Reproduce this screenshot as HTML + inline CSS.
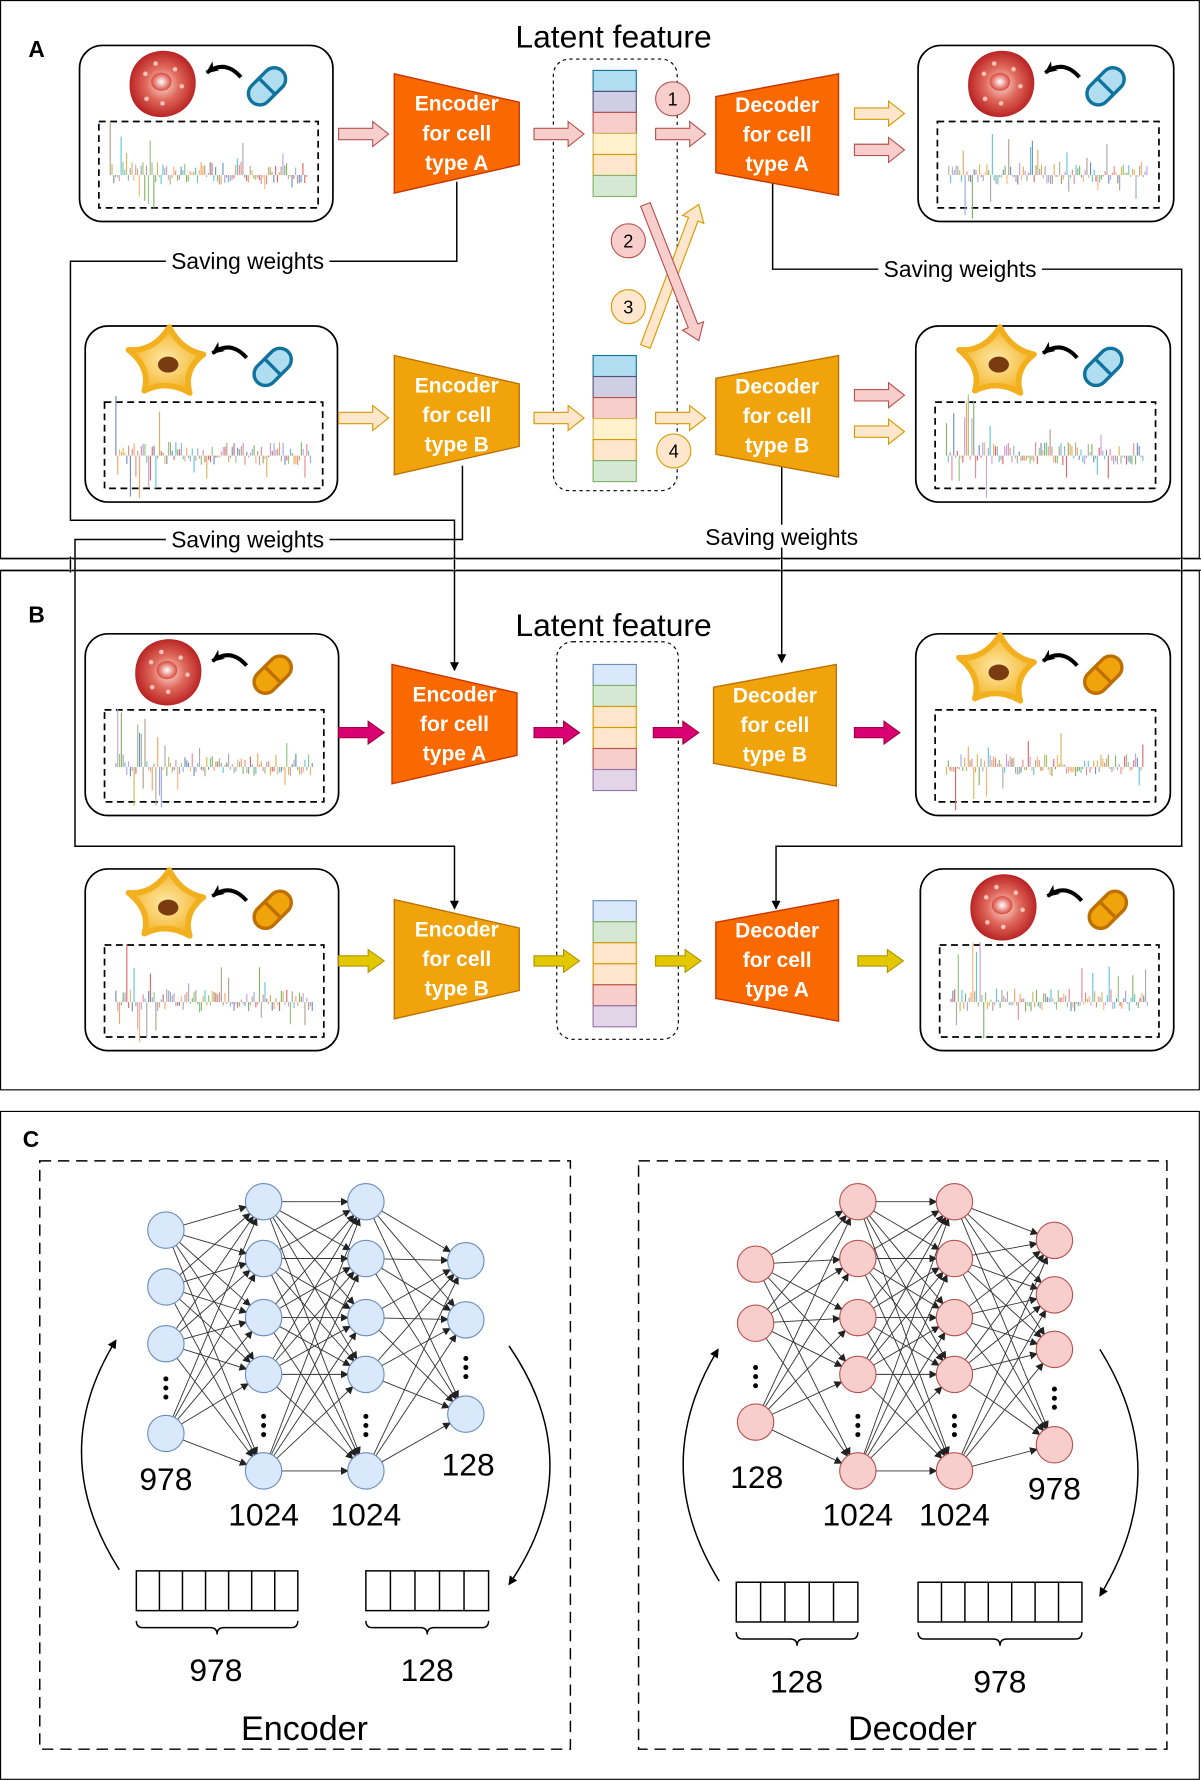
<!DOCTYPE html>
<html><head><meta charset="utf-8"><style>
html,body{margin:0;padding:0;background:#fff}
svg{display:block}
text{font-family:"Liberation Sans",Arial,sans-serif}
</style></head><body>
<svg id="s" xmlns="http://www.w3.org/2000/svg" width="1201" height="1781" viewBox="0 0 1057 1568" preserveAspectRatio="none"></svg>
<script>
var o='';
var seed=7;function rnd(){seed=(seed*16807)%2147483647;return (seed-1)/2147483646;}
function add(s){o+=s;}
add('<defs><radialGradient id="rc" cx="50%" cy="50%" r="55%"><stop offset="0" stop-color="#fbe3df"/><stop offset="0.45" stop-color="#e06a5c"/><stop offset="1" stop-color="#b3171a"/></radialGradient>'+
'<radialGradient id="nu" cx="50%" cy="50%" r="50%"><stop offset="0" stop-color="#fff"/><stop offset="1" stop-color="#d9473a"/></radialGradient>'+
'<radialGradient id="yc" cx="50%" cy="50%" r="55%"><stop offset="0" stop-color="#ffe9a8"/><stop offset="1" stop-color="#f2b01e"/></radialGradient>'+
'<marker id="ah" markerWidth="8" markerHeight="8" refX="7" refY="4" orient="auto" markerUnits="userSpaceOnUse"><path d="M0,0 L8,4 L0,8 z" fill="#000"/></marker>'+
'<marker id="ah2" markerWidth="12" markerHeight="12" refX="10" refY="6" orient="auto" markerUnits="userSpaceOnUse"><path d="M0,1 L11,6 L0,11 L3,6 z" fill="#000"/></marker>'+
'<marker id="as" markerWidth="7" markerHeight="7" refX="6" refY="3.5" orient="auto" markerUnits="userSpaceOnUse"><path d="M0,0 L7,3.5 L0,7 z" fill="#222"/></marker>'+
'</defs>');
add('<rect x="0.5" y="0.5" width="1055" height="491" fill="none" stroke="#000"/>');
add('<rect x="0.5" y="502.5" width="1055" height="457" fill="none" stroke="#000"/>');
add('<rect x="0.5" y="978.5" width="1055" height="588" fill="none" stroke="#000"/>');
add('<text x="25" y="50" font-size="20" font-weight="bold">A</text>');
add('<text x="25" y="548" font-size="20" font-weight="bold">B</text>');
add('<text x="20" y="1010" font-size="20" font-weight="bold">C</text>');
add('<text x="540" y="42" font-size="28" text-anchor="middle">Latent feature</text>');
add('<text x="540" y="560" font-size="28" text-anchor="middle">Latent feature</text>');

function redCell(cx,cy){var s='<path d="M'+(cx-28)+','+(cy+2)+' C'+(cx-28)+','+(cy-22)+' '+(cx-8)+','+(cy-30)+' '+(cx+6)+','+(cy-28)+' C'+(cx+24)+','+(cy-26)+' '+(cx+32)+','+(cy-10)+' '+(cx+30)+','+(cy+4)+' C'+(cx+28)+','+(cy+22)+' '+(cx+12)+','+(cy+31)+' '+(cx-2)+','+(cy+30)+' C'+(cx-18)+','+(cy+29)+' '+(cx-28)+','+(cy+18)+' '+(cx-28)+','+(cy+2)+'z" fill="url(#rc)"/>';
 s+='<ellipse cx="'+cx+'" cy="'+(cy-1)+'" rx="9" ry="8" fill="url(#nu)"/>';
 [[-14,-8],[12,-12],[18,3],[-13,14],[1,18],[-5,-17]].forEach(function(p){s+='<circle cx="'+(cx+p[0])+'" cy="'+(cy+p[1])+'" r="2" fill="#f6c4bc" stroke="#e48a7e" stroke-width="0.5"/>';});return s;}
function starCell(cx,cy){
 var tips=[[-34,-12],[2,-32],[32,-8],[20,26],[-20,24]],inn=[[-12,-10],[12,-12],[14,6],[0,14],[-14,4]];
 var d='M'+(cx+tips[0][0])+','+(cy+tips[0][1]);
 for(var i=0;i<5;i++){var t=tips[(i+1)%5],m=inn[i];d+=' Q'+(cx+m[0])+','+(cy+m[1])+' '+(cx+t[0])+','+(cy+t[1]);}
 return '<path d="'+d+'z" fill="url(#yc)" stroke="#f2b01e" stroke-width="5" stroke-linejoin="round"/><ellipse cx="'+(cx+1)+'" cy="'+(cy+1)+'" rx="9" ry="7" fill="#7a3b10"/>';}
function pill(cx,cy,blue){var f=blue?'#b1ddf0':'#f0a30a',st=blue?'#10739e':'#bd7000';
 return '<g transform="translate('+cx+','+cy+') rotate(-45)"><rect x="-19" y="-10" width="38" height="20" rx="10" fill="'+f+'" stroke="'+st+'" stroke-width="3"/><line x1="0" y1="-10" x2="0" y2="10" stroke="'+st+'" stroke-width="3"/></g>';}
function spectrum(x,y,w,h){var s='',base=y+h*0.62;var pal=['#82b366','#f4a460','#e88a94','#9fa8da','#c9a0dc','#5fc6d8','#b0a090','#aaa','#d6b656','#6c8ebf','#e06666','#93c47d','#ffb570'];
 for(var xx=x+10;xx<x+w-10;xx+=1.6){var r=rnd();var up=r<0.55;var hh=2+rnd()*10;if(rnd()<0.08)hh=12+rnd()*20;if(xx<x+50&&rnd()<0.3)hh=25+rnd()*30;if(!up)hh=hh*0.7;var c=pal[Math.floor(rnd()*pal.length)];
  s+='<line x1="'+xx.toFixed(1)+'" y1="'+base+'" x2="'+xx.toFixed(1)+'" y2="'+(up?base-hh:base+hh).toFixed(1)+'" stroke="'+c+'" stroke-width="1"/>';}
 return s;}
function box(x,y,w,h,cell,blue){var s='<rect x="'+x+'" y="'+y+'" width="'+w+'" height="'+h+'" rx="20" fill="#fff" stroke="#000" stroke-width="1.5"/>';
 var cx=x+72,cy=y+33;s+=(cell=='r'?redCell(cx,cy):starCell(cx,cy));s+=pill(x+165,y+36,blue);
 s+='<path d="M'+(x+142)+','+(y+28)+' Q'+(x+128)+','+(y+12)+' '+(x+112)+','+(y+24)+'" fill="none" stroke="#000" stroke-width="3.5" marker-end="url(#ah2)"/>';
 s+='<rect x="'+(x+17)+'" y="'+(y+67)+'" width="'+(w-30)+'" height="'+(h-79)+'" fill="none" stroke="#000" stroke-width="1.5" stroke-dasharray="6,4"/>';
 s+=spectrum(x+17,y+67,w-30,h-79);return s;}
function trap(p,fill,st,txt){var d='M'+p.map(function(q){return q.join(',');}).join(' L')+'z';var s='<path d="'+d+'" fill="'+fill+'" stroke="'+st+'" stroke-width="1.2"/>';
 var cx=(p[0][0]+p[1][0])/2,cy=(p[0][1]+p[3][1])/2;var L=txt.split('|');L.forEach(function(t,i){s+='<text x="'+cx+'" y="'+(cy-20+i*26)+'" font-size="18.5" font-weight="bold" fill="#fff" text-anchor="middle">'+t+'</text>';});return s;}
function enc(x,y,c){var f=c=='A'?'#fa6800':'#f0a30a',st=c=='A'?'#c73500':'#bd7000';return trap([[x,y],[x+110,y+25],[x+110,y+80],[x,y+105]],f,st,'Encoder|for cell|type '+c);}
function dec(x,y,c){var f=c=='A'?'#fa6800':'#f0a30a',st=c=='A'?'#c73500':'#bd7000';return trap([[x,y+20],[x+108,y],[x+108,y+107],[x,y+87]],f,st,'Decoder|for cell|type '+c);}
function barrow(x1,y1,x2,y2,sw,hw,hl,fill,st){var dx=x2-x1,dy=y2-y1,L=Math.sqrt(dx*dx+dy*dy),ux=dx/L,uy=dy/L,nx=-uy,ny=ux;var bx=x2-ux*hl,by=y2-uy*hl;
 var P=[[x1+nx*sw/2,y1+ny*sw/2],[bx+nx*sw/2,by+ny*sw/2],[bx+nx*hw/2,by+ny*hw/2],[x2,y2],[bx-nx*hw/2,by-ny*hw/2],[bx-nx*sw/2,by-ny*sw/2],[x1-nx*sw/2,y1-ny*sw/2]];
 return '<path d="M'+P.map(function(q){return q[0].toFixed(1)+','+q[1].toFixed(1);}).join(' L')+'z" fill="'+fill+'" stroke="'+st+'" stroke-width="1"/>';}
var PK=['#f8cecc','#b85450'],YL=['#ffe6cc','#d79b00'],MG=['#d80073','#a50040'],YS=['#e3c800','#b09500'];
function pa(x,y,c){return barrow(x,y,x+44,y,10,22,14,c[0],c[1]);}
function sa(x,y,c){return barrow(x,y,x+40,y,9,20,14,c[0],c[1]);}
function vec(x,y,cols){var s='';cols.forEach(function(c,i){s+='<rect x="'+x+'" y="'+(y+i*18.5)+'" width="38" height="18.5" fill="'+c[0]+'" stroke="'+c[1]+'" stroke-width="1"/>';});return s;}
function num(x,y,n,c){return '<circle cx="'+x+'" cy="'+y+'" r="15" fill="'+c[0]+'" stroke="'+c[1]+'"/><text x="'+x+'" y="'+(y+6)+'" font-size="16" text-anchor="middle">'+n+'</text>';}
function lbl(x,y,t){return '<rect x="'+(x-72)+'" y="'+(y-11)+'" width="144" height="20" fill="#fff"/><text x="'+x+'" y="'+(y+7)+'" font-size="20" text-anchor="middle">'+t+'</text>';}

add('<rect x="487" y="52" width="109" height="380" rx="14" fill="none" stroke="#000" stroke-dasharray="3,3"/>');
add('<rect x="490" y="565" width="107" height="350" rx="14" fill="none" stroke="#000" stroke-dasharray="3,3"/>');
var ln='fill="none" stroke="#000" stroke-width="1.3"';
add('<path d="M402,160 L402,230 L62,230 L62,458 L400,458 L400,590" '+ln+' marker-end="url(#ah)"/>');
add('<path d="M407,410 L407,475 L66,475 L66,745 L400,745 L400,800" '+ln+' marker-end="url(#ah)"/>');
add('<path d="M680,160 L680,237 L1040,237 L1040,745 L683,745 L683,800" '+ln+' marker-end="url(#ah)"/>');
add('<path d="M688,408 L688,583" '+ln+' marker-end="url(#ah)"/>');
add(lbl(218,230,'Saving weights'));add(lbl(845,237,'Saving weights'));add(lbl(218,475,'Saving weights'));add(lbl(688,473,'Saving weights'));
add('<line x1="0" y1="492" x2="1057" y2="492" stroke="#000"/><line x1="0" y1="502" x2="1057" y2="502" stroke="#000"/>');
add('<line x1="62" y1="492" x2="62" y2="502" stroke="#fff" stroke-width="3"/><line x1="400" y1="492" x2="400" y2="502" stroke="#fff" stroke-width="3"/><line x1="1040" y1="492" x2="1040" y2="502" stroke="#fff" stroke-width="3"/><line x1="688" y1="492" x2="688" y2="502" stroke="#fff" stroke-width="3"/>');
add('<path d="M62,490 L62,504 M400,490 L400,504 M1040,490 L1040,504 M688,490 L688,504" stroke="#000" stroke-width="1.3"/>');

add(box(70,40,223,155,'r',1));add(pa(298,118,PK));add(enc(347,65,'A'));add(pa(470,118,PK));
var cA=[['#b1ddf0','#10739e'],['#d0cee2','#56517e'],['#f8cecc','#b85450'],['#fff2cc','#d6b656'],['#ffe6cc','#d79b00'],['#d5e8d4','#82b366']];
add(vec(522,62,cA));add(vec(522,313,cA));
add(pa(577,118,PK));add(dec(630,65,'A'));add(pa(752,100,YL));add(pa(752,132,PK));add(box(808,40,225,155,'r',1));
add(barrow(568,305,615,180,9,20,14,YL[0],YL[1]));add(barrow(568,180,615,300,9,20,14,PK[0],PK[1]));
add(num(592,87,'1',PK));add(num(553,212,'2',PK));add(num(553,270,'3',YL));add(num(593,397,'4',YL));
add(box(75,287,222,155,'y',1));add(pa(298,368,YL));add(enc(347,313,'B'));add(pa(470,368,YL));add(pa(577,368,YL));add(dec(630,313,'B'));
add(pa(752,348,PK));add(pa(752,380,YL));add(box(806,287,224,155,'y',1));
var cB=[['#dae8fc','#6c8ebf'],['#d5e8d4','#82b366'],['#ffe6cc','#d79b00'],['#ffe6cc','#d79b00'],['#f8cecc','#b85450'],['#e1d5e7','#9673a6']];
add(box(75,558,223,160,'r',0));add(sa(298,645,MG));add(enc(345,585,'A'));add(sa(470,645,MG));add(vec(522,585,cB));add(sa(575,645,MG));add(dec(628,585,'B'));add(sa(752,645,MG));add(box(806,558,224,160,'y',0));
add(box(75,765,223,160,'y',0));add(sa(298,846,YS));add(enc(347,792,'B'));add(sa(470,846,YS));add(vec(522,793,cB));add(sa(577,846,YS));add(dec(630,792,'A'));add(sa(755,846,YS));add(box(810,765,223,160,'r',0));

add('<rect x="35" y="1022" width="467" height="518" fill="none" stroke="#000" stroke-width="1.3" stroke-dasharray="10,6"/>');
add('<rect x="562" y="1022" width="465" height="518" fill="none" stroke="#000" stroke-width="1.3" stroke-dasharray="10,6"/>');
function net(layers,f,st){var s='';for(var i=0;i<layers.length-1;i++){var A=layers[i],B=layers[i+1];A.n.forEach(function(a){B.n.forEach(function(b){var dx=B.x-A.x,dy=b-a,L=Math.sqrt(dx*dx+dy*dy);s+='<line x1="'+(A.x+16*dx/L).toFixed(1)+'" y1="'+(a+16*dy/L).toFixed(1)+'" x2="'+(B.x-16*dx/L).toFixed(1)+'" y2="'+(b-16*dy/L).toFixed(1)+'" stroke="#333" stroke-width="0.8" marker-end="url(#as)"/>';});});}
 layers.forEach(function(l){l.n.forEach(function(y){s+='<circle cx="'+l.x+'" cy="'+y+'" r="16" fill="'+f+'" stroke="'+st+'"/>';});[-8,0,8].forEach(function(d){s+='<circle cx="'+l.x+'" cy="'+(l.d+d)+'" r="2.2" fill="#000"/>';});});return s;}
add(net([{x:146,n:[1083,1133,1183,1262],d:1222},{x:232,n:[1058,1108,1160,1210,1295],d:1255},{x:322,n:[1058,1108,1160,1210,1295],d:1255},{x:410,n:[1110,1162,1245],d:1204}],'#dae8fc','#6c8ebf'));
add(net([{x:665,n:[1113,1165,1252],d:1212},{x:755,n:[1058,1108,1160,1210,1295],d:1255},{x:840,n:[1058,1108,1160,1210,1295],d:1255},{x:928,n:[1092,1140,1188,1272],d:1231}],'#f8cecc','#b85450'));
function T(x,y,t,sz){return '<text x="'+x+'" y="'+y+'" font-size="'+sz+'" text-anchor="middle">'+t+'</text>';}
add(T(146,1312,'978',28)+T(232,1343,'1024',28)+T(322,1343,'1024',28)+T(412,1299,'128',28));
add(T(666,1310,'128',28)+T(755,1343,'1024',28)+T(840,1343,'1024',28)+T(928,1320,'978',28));
function arr(x,y,n,w){var s='<rect x="'+x+'" y="'+y+'" width="'+(n*w)+'" height="35" fill="#fff" stroke="#000" stroke-width="1.3"/>';for(var i=1;i<n;i++)s+='<line x1="'+(x+i*w)+'" y1="'+y+'" x2="'+(x+i*w)+'" y2="'+(y+35)+'" stroke="#000" stroke-width="1.3"/>';
 var x2=x+n*w,m=(x+x2)/2,b=y+44;s+='<path d="M'+x+','+b+' Q'+x+','+(b+6)+' '+(x+6)+','+(b+6)+' L'+(m-6)+','+(b+6)+' Q'+m+','+(b+6)+' '+m+','+(b+12)+' Q'+m+','+(b+6)+' '+(m+6)+','+(b+6)+' L'+(x2-6)+','+(b+6)+' Q'+x2+','+(b+6)+' '+x2+','+b+'" fill="none" stroke="#000" stroke-width="1.3"/>';return s;}
add(arr(120,1383,7,20.3)+arr(322,1383,5,21.6)+arr(648,1393,5,21.4)+arr(808,1393,7,20.6));
add(T(190,1480,'978',28)+T(376,1480,'128',28)+T(701,1490,'128',28)+T(880,1490,'978',28));
add(T(268,1532,'Encoder',30)+T(803,1532,'Decoder',30));
add('<path d="M105,1382 Q40,1280 102,1180" fill="none" stroke="#000" stroke-width="1.3" marker-end="url(#ah)"/>');
add('<path d="M448,1185 Q520,1290 448,1395" fill="none" stroke="#000" stroke-width="1.3" marker-end="url(#ah)"/>');
add('<path d="M633,1392 Q570,1290 632,1188" fill="none" stroke="#000" stroke-width="1.3" marker-end="url(#ah)"/>');
add('<path d="M968,1188 Q1035,1295 968,1405" fill="none" stroke="#000" stroke-width="1.3" marker-end="url(#ah)"/>');
document.getElementById('s').innerHTML=o;
</script>
</body></html>
